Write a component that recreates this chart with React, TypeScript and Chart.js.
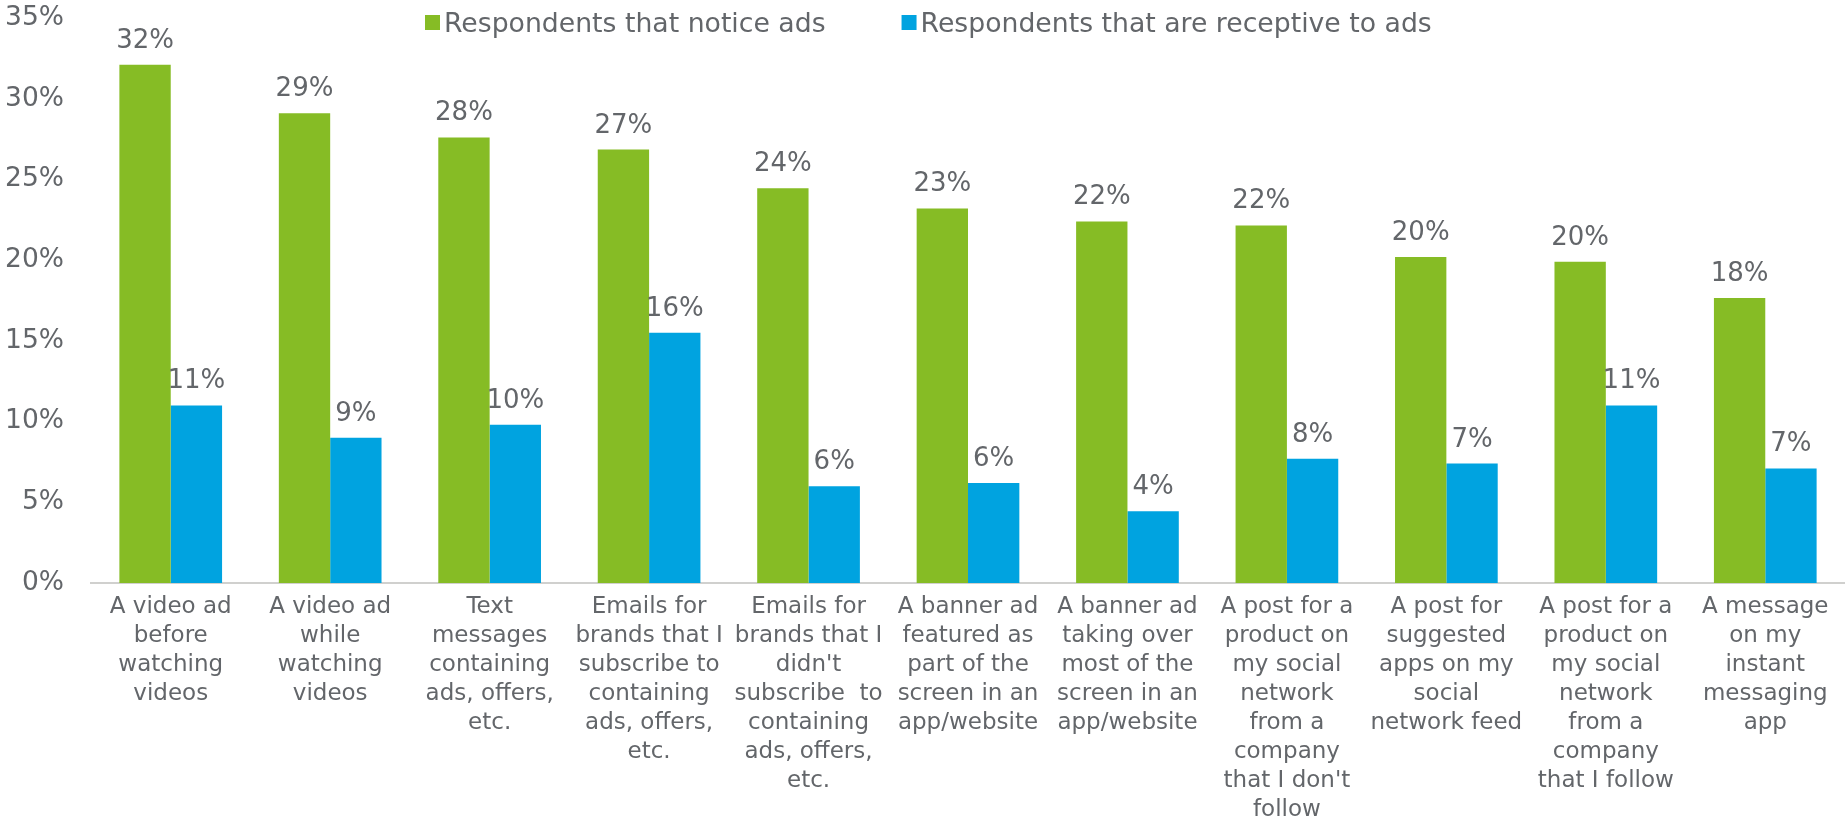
import React, { useEffect, useRef } from "react";
import { Chart, registerables } from "chart.js";

Chart.register(...registerables);

const categories: string[][] = [
  ["A video ad", "before", "watching", "videos"],
  ["A video ad", "while", "watching", "videos"],
  ["Text", "messages", "containing", "ads, offers,", "etc."],
  ["Emails for", "brands that I", "subscribe to", "containing", "ads, offers,", "etc."],
  ["Emails for", "brands that I", "didn't", "subscribe  to", "containing", "ads, offers,", "etc."],
  ["A banner ad", "featured as", "part of the", "screen in an", "app/website"],
  ["A banner ad", "taking over", "most of the", "screen in an", "app/website"],
  ["A post for a", "product on", "my social", "network", "from a", "company", "that I don't", "follow"],
  ["A post for", "suggested", "apps on my", "social", "network feed"],
  ["A post for a", "product on", "my social", "network", "from a", "company", "that I follow"],
  ["A message", "on my", "instant", "messaging", "app"],
];

const seriesNames = ["Respondents that notice ads", "Respondents that are receptive to ads"];
const noticeAds = [32.1, 29.1, 27.6, 26.85, 24.45, 23.2, 22.4, 22.15, 20.2, 19.9, 17.65];
const receptiveAds = [11.0, 9.0, 9.8, 15.5, 6.0, 6.2, 4.45, 7.7, 7.4, 11.0, 7.1];

const yMin = 0;
const yMax = 35;
const yStep = 5;

const GREEN = "#86BC25";
const BLUE = "#00A3E0";
const TEXT = "#63666A";
const AXIS = "#D0D0CE";
const FONT = "'DejaVu Sans', Verdana, sans-serif";

const valueLabels = {
  id: "valueLabels",
  afterDatasetsDraw(chart: any) {
    const ctx = chart.ctx;
    ctx.save();
    ctx.font = `26px ${FONT}`;
    ctx.fillStyle = TEXT;
    ctx.textAlign = "center";
    ctx.textBaseline = "alphabetic";
    chart.data.datasets.forEach((ds: any, i: number) => {
      const meta = chart.getDatasetMeta(i);
      meta.data.forEach((el: any, j: number) => {
        ctx.fillText(Math.round(ds.data[j]) + "%", el.x, el.y - 17);
      });
    });
    ctx.restore();
  },
};

const topLegend = {
  id: "topLegend",
  afterDraw(chart: any) {
    const ctx = chart.ctx;
    ctx.save();
    ctx.font = `26.7px ${FONT}`;
    ctx.textAlign = "left";
    ctx.textBaseline = "alphabetic";
    let x = 425;
    chart.data.datasets.forEach((ds: any) => {
      ctx.fillStyle = ds.backgroundColor;
      ctx.fillRect(x, 15, 15, 15);
      x += 19;
      ctx.fillStyle = TEXT;
      ctx.fillText(ds.label, x, 32);
      x += ctx.measureText(ds.label).width + 76;
    });
    ctx.restore();
  },
};

export default function App() {
  const ref = useRef<HTMLCanvasElement>(null);

  useEffect(() => {
    if (!ref.current) return;
    Chart.defaults.font.family = FONT;
    Chart.defaults.color = TEXT;
    const chart = new Chart(ref.current, {
      type: "bar",
      data: {
        labels: categories,
        datasets: [
          {
            label: seriesNames[0],
            data: noticeAds,
            backgroundColor: GREEN,
            borderWidth: 0,
            barPercentage: 1,
            categoryPercentage: 0.644,
          },
          {
            label: seriesNames[1],
            data: receptiveAds,
            backgroundColor: BLUE,
            borderWidth: 0,
            barPercentage: 1,
            categoryPercentage: 0.644,
          },
        ],
      },
      options: {
        responsive: false,
        animation: false,
        layout: { padding: { top: 18, right: 0, bottom: 0, left: 0 } },
        plugins: {
          legend: { display: false },
          tooltip: { enabled: false },
        },
        scales: {
          x: {
            grid: { display: false, drawTicks: false },
            border: { display: true, color: AXIS, width: 2 },
            ticks: {
              autoSkip: false,
              maxRotation: 0,
              minRotation: 0,
              padding: 10,
              color: TEXT,
              font: { size: 23, lineHeight: 29 / 23 },
            },
            afterFit: (scale: any) => {
              scale.height = 239;
              scale.paddingLeft = 0;
              scale.paddingRight = 0;
            },
          },
          y: {
            min: yMin,
            max: yMax,
            grid: { display: false, drawTicks: false },
            border: { display: false },
            ticks: {
              stepSize: yStep,
              padding: 27,
              color: TEXT,
              font: { size: 26.5 },
              callback: (v: any) => v + "%",
            },
            afterFit: (scale: any) => {
              scale.width = 91;
              scale.paddingTop = 0;
              scale.paddingBottom = 0;
            },
          },
        },
      },
      plugins: [valueLabels, topLegend],
    });
    return () => chart.destroy();
  }, []);

  return (
    <div style={{ position: "fixed", left: 0, top: 0, width: 1845, height: 822, background: "#fff" }}>
      <canvas ref={ref} width={1845} height={822} style={{ display: "block" }} />
    </div>
  );
}
